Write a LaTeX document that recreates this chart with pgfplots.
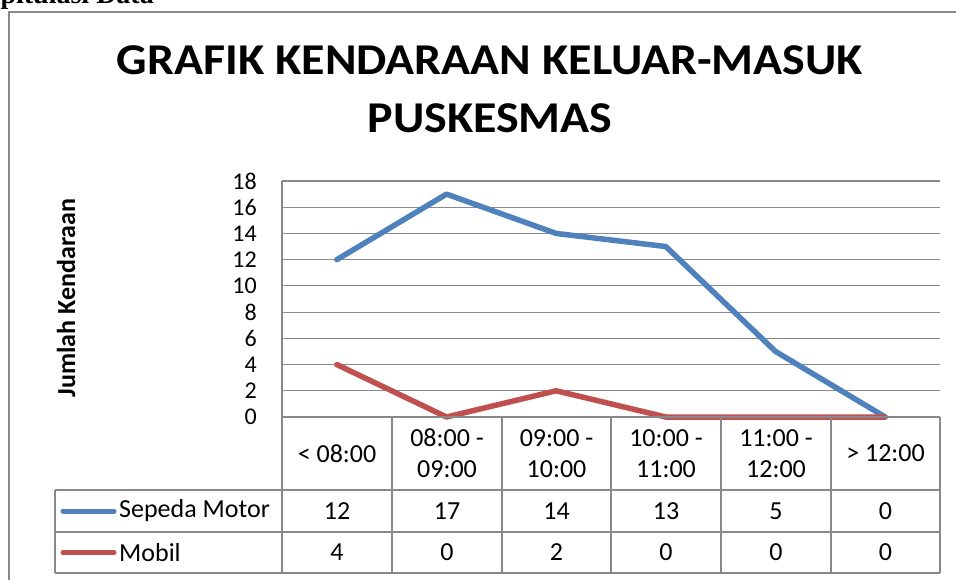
\documentclass[border=0pt]{standalone}
\usepackage{fontspec}
\setmainfont{Carlito}
\newfontfamily\titlefont[FakeStretch=1.09]{Carlito}
\newfontfamily\serifb{Liberation Serif}
\usepackage{pgfplots}
\pgfplotsset{compat=1.18}
\definecolor{sblue}{HTML}{4F81BD}
\definecolor{sred}{HTML}{C0504D}
\definecolor{gline}{HTML}{898989}
\begin{document}
\begin{tikzpicture}[x=1pt,y=1pt]
\useasboundingbox (0,0) rectangle (956,579);
\clip (0,0) rectangle (956,579);
\node[anchor=base east, inner sep=0pt, font=\serifb\bfseries\fontsize{28}{28}\selectfont] at (154,575) {Rekapitulasi Data};
\draw[gline, line width=1.8pt] (9,-5) -- (9,567) -- (960,567);
\node[anchor=base, inner sep=0pt, font=\titlefont\bfseries\fontsize{44}{44}\selectfont] at (490,504) {GRAFIK KENDARAAN KELUAR-MASUK};
\node[anchor=base, inner sep=0pt, font=\titlefont\bfseries\fontsize{44}{44}\selectfont] at (490,446) {PUSKESMAS};
\node[rotate=90, inner sep=0pt, font=\bfseries\fontsize{26}{26}\selectfont] at (66,281) {Jumlah Kendaraan};
\begin{axis}[at={(282pt,162pt)}, anchor=south west, scale only axis,
  width=658pt, height=236pt, xmin=-0.5, xmax=5.5, ymin=0, ymax=18,
  ytick={0,2,...,18}, xtick=\empty, ymajorgrids,
  grid style={gline, line width=1.2pt},
  axis line style={draw=none}, major tick length=0pt,
  yticklabel style={font=\fontsize{24}{24}\selectfont, anchor=east, inner sep=0pt, xshift=-25pt},
  /pgf/number format/assume math mode=true,
  clip=false]
\addplot[sblue, line width=5.5pt, line join=round, line cap=round] coordinates {(0,12)(1,17)(2,14)(3,13)(4,5)(5,0)};
\addplot[sred, line width=5.5pt, line join=round, line cap=round] coordinates {(0,4)(1,0)(2,2)(3,0)(4,0)(5,0)};
\end{axis}
% data table
\begin{scope}[gline, line width=1.2pt]
\draw (282,398) -- (282,6);
\draw (282,162) -- (940,162);
\foreach \y in {89,47,6} \draw (55,\y) -- (940,\y);
\draw (55,89) -- (55,6);
\foreach \x in {392,502,611,721,831,940} \draw (\x,162) -- (\x,6);
\end{scope}
\begin{scope}[every node/.style={font=\fontsize{26}{31}\selectfont, align=center, inner sep=0pt}]
\node at (337,125.5) {< 08:00};
\node at (447,125.5) {08:00 -\\09:00};
\node at (556.5,125.5) {09:00 -\\10:00};
\node at (666,125.5) {10:00 -\\11:00};
\node at (776,125.5) {11:00 -\\12:00};
\node at (885.5,125.5) {> 12:00};
\node at (337,68) {12}; \node at (447,68) {17}; \node at (556.5,68) {14};
\node at (666,68) {13}; \node at (776,68) {5}; \node at (885.5,68) {0};
\node at (337,26.5) {4}; \node at (447,26.5) {0}; \node at (556.5,26.5) {2};
\node at (666,26.5) {0}; \node at (776,26.5) {0}; \node at (885.5,26.5) {0};
\node[anchor=west] at (119,68) {Sepeda Motor};
\node[anchor=west] at (119,26.5) {Mobil};
\end{scope}
\draw[sblue, line width=5pt, line cap=round] (63,68) -- (114,68);
\draw[sred, line width=5pt, line cap=round] (63,26.5) -- (114,26.5);
\end{tikzpicture}
\end{document}
